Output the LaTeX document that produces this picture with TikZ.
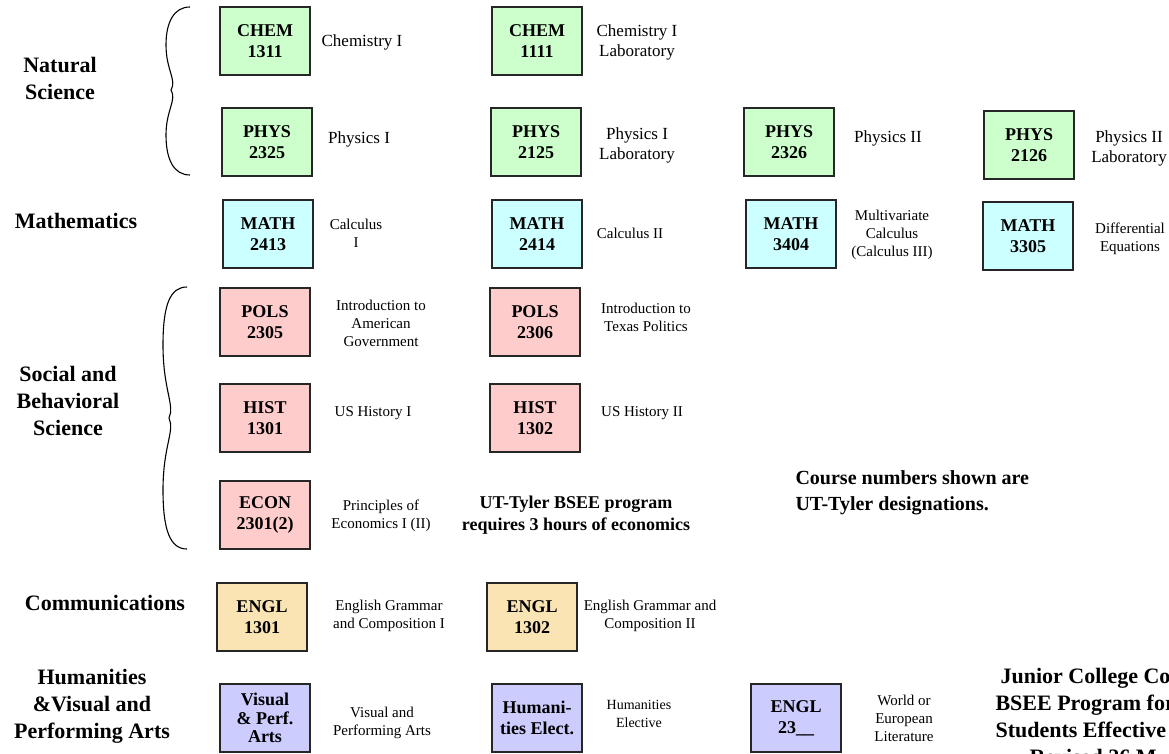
\documentclass[tikz,border=0pt]{standalone}
\usepackage{fontspec}
\setmainfont{Liberation Serif}
\usepackage{tikz}
\definecolor{nat_green}{RGB}{204,255,204}
\definecolor{math_cyan}{RGB}{204,255,255}
\definecolor{soc_pink}{RGB}{255,204,204}
\definecolor{comm_tan}{RGB}{250,228,180}
\definecolor{hum_lilac}{RGB}{204,204,255}

\begin{document}
\begin{tikzpicture}[x=1pt, y=-1pt,
    course/.style={draw=black!85, line width=1.1pt, minimum width=90, minimum height=68,
        inner sep=0pt, align=center, font=\fontsize{18}{21}\selectfont\bfseries},
    natbox/.style={course, fill=nat_green},
    mathbox/.style={course, fill=math_cyan},
    socbox/.style={course, fill=soc_pink},
    commbox/.style={course, fill=comm_tan},
    humbox/.style={course, fill=hum_lilac},
    area/.style={align=center, font=\fontsize{22}{27}\selectfont\bfseries},
    labdesc/.style={align=center, font=\fontsize{17}{20}\selectfont},
    desc/.style={align=center, font=\fontsize{15}{18}\selectfont},
    remark/.style={align=center, font=\fontsize{18}{22}\selectfont\bfseries},
    curly/.style={line width=1.1pt}]
    \useasboundingbox (0,0) rectangle (1169,754);
    \clip (0,0) rectangle (1169,754);

    % Subject areas
    \node[area] (natsci) at (60,78) {Natural\\Science};
    \node[area] (math) at (76,221) {Mathematics};
    \node[area] (socsci) at (68,401) {Social and\\Behavioral\\Science};
    \node[area] (comm) at (105,603) {Communications};
    \node[area] (hum) at (92,706) {Humanities\\\&Visual and\\Performing Arts};

    % Braces
    \draw[curly] (190,7) .. controls (174,7) and (166,22) .. (166,45)
        .. controls (166,70) and (177,80) .. (171,90)
        .. controls (177,100) and (166,110) .. (166,135)
        .. controls (166,160) and (174,175) .. (190,175);
    \draw[curly] (187,287) .. controls (170,287) and (163,305) .. (163,345)
        .. controls (163,390) and (175,405) .. (169,418)
        .. controls (175,431) and (163,446) .. (163,490)
        .. controls (163,530) and (170,549) .. (187,549);

    % Natural science
    \node[natbox] (chem1311) at (265,41) {CHEM\\1311};
    \node[labdesc] (chem1311t) at (362,42) {Chemistry I};
    \node[natbox] (chem1111) at (537,41) {CHEM\\1111};
    \node[labdesc] (chem1111t) at (637,42) {Chemistry I\\Laboratory};
    \node[natbox] (phys2325) at (267,142) {PHYS\\2325};
    \node[labdesc] (phys2325t) at (359,139) {Physics I};
    \node[natbox] (phys2125) at (536,142) {PHYS\\2125};
    \node[labdesc] (phys2125t) at (637,145) {Physics I\\Laboratory};
    \node[natbox] (phys2326) at (789,142) {PHYS\\2326};
    \node[labdesc] (phys2326t) at (888,138) {Physics II};
    \node[natbox] (phys2126) at (1029,145) {PHYS\\2126};
    \node[labdesc] (phys2126t) at (1129,148) {Physics II\\Laboratory};

    % Mathematics
    \node[mathbox] (math2413) at (268,234) {MATH\\2413};
    \node[desc] (math2413t) at (356,233) {Calculus\\I};
    \node[mathbox] (math2414) at (537,234) {MATH\\2414};
    \node[desc] (math2414t) at (630,233) {Calculus II};
    \node[mathbox] (math3404) at (791,234) {MATH\\3404};
    \node[desc] (math3404t) at (892,235) {Multivariate\\Calculus\\(Calculus III)};
    \node[mathbox] (math3305) at (1028,236) {MATH\\3305};
    \node[desc] (math3305t) at (1130,239) {Differential\\Equations};

    % Social and behavioral science
    \node[socbox] (pols2305) at (265,322) {POLS\\2305};
    \node[desc] (pols2305t) at (381,323) {Introduction to\\American\\Government};
    \node[socbox] (pols2306) at (535,322) {POLS\\2306};
    \node[desc] (pols2306t) at (646,317) {Introduction to\\Texas Politics};
    \node[socbox] (hist1301) at (265,418) {HIST\\1301};
    \node[desc] (hist1301t) at (373,413) {US History I};
    \node[socbox] (hist1302) at (535,418) {HIST\\1302};
    \node[desc] (hist1302t) at (642,413) {US History II};
    \node[socbox] (econ2301) at (265,515) {ECON\\2301(2)};
    \node[desc] (econ2301t) at (381,516) {Principles of\\Economics I (II)};
    \node[remark] (econnote) at (576,515) {UT-Tyler BSEE program\\requires 3 hours of economics};
    \node[anchor=west, align=left, font=\fontsize{20}{26}\selectfont\bfseries] (numnote) at (792,493) {Course numbers shown are\\UT-Tyler designations.};

    % Communications
    \node[commbox] (engl1301) at (262,617) {ENGL\\1301};
    \node[desc] (engl1301t) at (389,616) {English Grammar\\and Composition I};
    \node[commbox] (engl1302) at (532,617) {ENGL\\1302};
    \node[desc] (engl1302t) at (650,616) {English Grammar and\\Composition II};

    % Humanities
    \node[humbox, font=\fontsize{18}{18.5}\selectfont\bfseries] (vpa) at (265,718) {Visual\\\& Perf.\\Arts};
    \node[desc] (vpat) at (382,723) {Visual and\\Performing Arts};
    \node[humbox] (humelect) at (537,718) {Humani-\\ties Elect.};
    \node[desc, font=\fontsize{14}{18}\selectfont] (humelectt) at (639,714) {Humanities\\Elective};
    \node[humbox] (engl23) at (796,718) {ENGL\\23\_\_};
    \node[desc] (engl23t) at (904,718) {World or\\European\\Literature};

    % Title (runs off the page)
    \node[anchor=base west, font=\fontsize{22}{27}\selectfont\bfseries] (title1) at (997,683) {Junior College Co};
    \node[anchor=base west, font=\fontsize{22}{27}\selectfont\bfseries] (title2) at (992,710) {BSEE Program for};
    \node[anchor=base west, font=\fontsize{22}{27}\selectfont\bfseries] (title3) at (992,737) {Students Effective};
    \node[anchor=base west, font=\fontsize{22}{27}\selectfont\bfseries] (title4) at (1026,764) {Revised 26 M};
\end{tikzpicture}
\end{document}
